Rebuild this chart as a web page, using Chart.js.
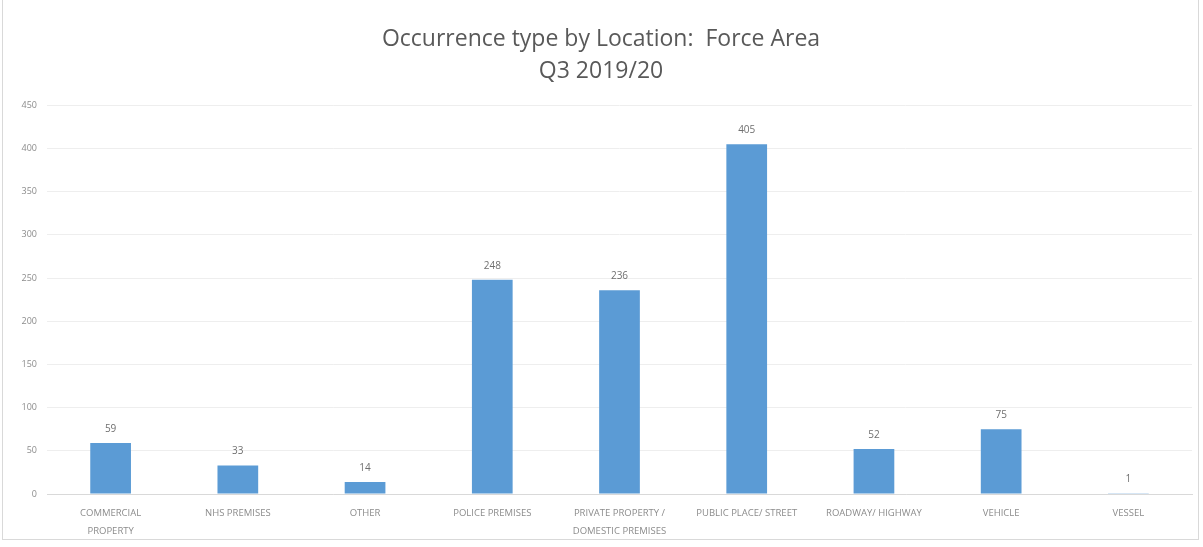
<!DOCTYPE html>
<html>
<head>
<meta charset="utf-8">
<script src="https://cdn.jsdelivr.net/npm/chart.js@4.4.1/dist/chart.umd.min.js"></script>
<style>
  html, body { margin: 0; padding: 0; background: #ffffff; }
  #wrap { position: relative; width: 1203px; height: 547px; }
  #frame { position: absolute; left: 2px; top: 0px; width: 1197px; height: 540px; border: 1px solid #d9d9d9; border-top: none; box-sizing: border-box; }
  canvas { position: absolute; left: 0; top: 0; }
</style>
</head>
<body>
<div id="wrap">
  <div id="frame"></div>
  <canvas id="c" width="1203" height="547"></canvas>
</div>
<script>
const categories = [
  ['COMMERCIAL', 'PROPERTY'],
  'NHS PREMISES',
  'OTHER',
  'POLICE PREMISES',
  ['PRIVATE PROPERTY /', 'DOMESTIC PREMISES'],
  'PUBLIC PLACE/ STREET',
  'ROADWAY/ HIGHWAY',
  'VEHICLE',
  'VESSEL'
];
const occurrences = [59, 33, 14, 248, 236, 405, 52, 75, 1];
const yTicks = [0, 50, 100, 150, 200, 250, 300, 350, 400, 450];
const titleLines = ['Occurrence type by Location:  Force Area', 'Q3 2019/20'];

const barColor = '#5b9bd5';
const textGray = '#8c8c8c';

// value labels drawn just above each bar
const valueLabels = {
  id: 'valueLabels',
  afterDatasetsDraw(chart) {
    const ctx = chart.ctx;
    const meta = chart.getDatasetMeta(0);
    ctx.save();
    ctx.font = '10px "Open Sans", sans-serif';
    ctx.fillStyle = '#6f6f6f';
    ctx.textAlign = 'center';
    ctx.textBaseline = 'bottom';
    meta.data.forEach((bar, i) => {
      ctx.fillText(String(occurrences[i]), bar.x, bar.y - 9);
    });
    ctx.restore();
  }
};

new Chart(document.getElementById('c'), {
  type: 'bar',
  data: {
    labels: categories,
    datasets: [{
      data: occurrences,
      backgroundColor: barColor,
      borderWidth: 0,
      barPercentage: 0.32,
      categoryPercentage: 1.0
    }]
  },
  options: {
    responsive: false,
    animation: false,
    layout: { padding: { left: 10, right: 11, top: 23, bottom: 4 } },
    plugins: {
      legend: { display: false },
      tooltip: { enabled: false },
      title: {
        display: true,
        text: titleLines,
        color: '#595959',
        font: { family: '"Open Sans", sans-serif', size: 23, weight: 'normal', lineHeight: 1.4 },
        padding: { top: 0, bottom: 18 }
      }
    },
    scales: {
      x: {
        afterFit(scale) { scale.height = 49; },
        grid: { display: false, drawTicks: false },
        border: { color: '#d9d9d9', width: 1 },
        ticks: {
          color: textGray,
          font: { family: '"Open Sans", sans-serif', size: 9.5, lineHeight: 1.9 },
          maxRotation: 0,
          autoSkip: false,
          padding: 10
        }
      },
      y: {
        min: 0,
        max: 450,
        afterBuildTicks(scale) { scale.ticks = yTicks.map(v => ({ value: v })); },
        afterFit(scale) { scale.width = 37; },
        grid: { color: '#eeeeee', drawTicks: false },
        border: { display: false },
        ticks: {
          color: textGray,
          font: { family: '"Open Sans", sans-serif', size: 9 },
          padding: 10
        }
      }
    }
  },
  plugins: [valueLabels]
});
</script>
</body>
</html>
